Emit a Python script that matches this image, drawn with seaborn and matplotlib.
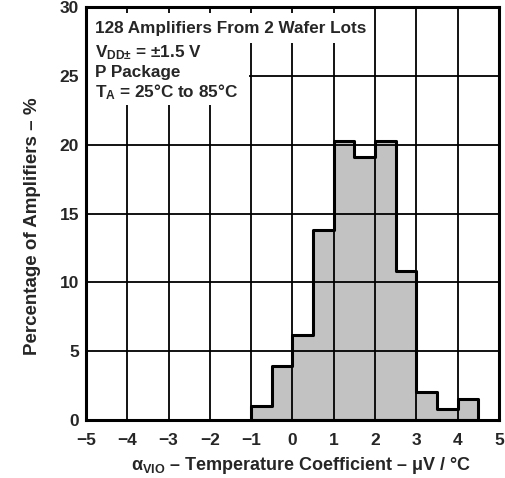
import numpy as np
import pandas as pd
import matplotlib
matplotlib.use("Agg")
import matplotlib.pyplot as plt
from matplotlib.patches import Rectangle
import seaborn as sns

# Data
bin_edges = [-1.0, -0.5, 0.0, 0.5, 1.0, 1.5, 2.0, 2.5, 3.0, 3.5, 4.0, 4.5]
bin_centers = [-0.75, -0.25, 0.25, 0.75, 1.25, 1.75, 2.25, 2.75, 3.25, 3.75, 4.25]
percentages = [1.0, 3.9, 6.2, 13.8, 20.3, 19.1, 20.3, 10.8, 2.0, 0.8, 1.5]
x_ticks = [-5, -4, -3, -2, -1, 0, 1, 2, 3, 4, 5]
y_ticks = [0, 5, 10, 15, 20, 25, 30]
info_lines = ["128 Amplifiers From 2 Wafer Lots",
              "V$_{\\mathrm{DD±}}$ = ±1.5 V",
              "P Package",
              "T$_{\\mathrm{A}}$ = 25°C to 85°C"]

sns.set_style("white")
plt.rcParams['font.family'] = ['Liberation Sans', 'DejaVu Sans']
plt.rcParams['font.weight'] = 'bold'
plt.rcParams['mathtext.fontset'] = 'custom'
plt.rcParams['mathtext.rm'] = 'Liberation Sans:bold'
plt.rcParams['mathtext.it'] = 'Liberation Sans:bold'
plt.rcParams['mathtext.bf'] = 'Liberation Sans:bold'

fig = plt.figure(figsize=(5.06, 4.78), dpi=100)
ax = fig.add_axes([0.170, 0.1213, 0.816, 0.864])

df = pd.DataFrame({"x": bin_centers, "pct": percentages})
sns.histplot(data=df, x="x", weights="pct", bins=bin_edges, element="step",
             fill=True, color="#c4c4c4", alpha=1.0, edgecolor="black",
             linewidth=2.2, ax=ax)
for coll in ax.collections:
    coll.set_facecolor("#c2c2c2")
    coll.set_edgecolor("black")
    coll.set_linewidth(2.2)
    coll.set_zorder(1)

ax.set_xlim(-5, 5)
ax.set_ylim(0, 30)
ax.set_xticks(x_ticks)
ax.set_yticks(y_ticks)
ax.set_xticklabels([("−" + str(abs(v))) if v < 0 else str(v) for v in x_ticks],
                   fontsize=12.5, fontweight='bold')
ax.set_yticklabels([str(v) for v in y_ticks], fontsize=12.5, fontweight='bold')
ax.tick_params(axis='x', length=0, pad=9)
ax.tick_params(axis='y', length=0, pad=5)
ax.grid(True, color="black", linewidth=1.3)
ax.set_axisbelow(False)
for s in ax.spines.values():
    s.set_linewidth(2.2)
    s.set_color("black")
    s.set_zorder(5)

ax.set_xlabel("α$_{\\mathrm{VIO}}$ – Temperature Coefficient – μV / °C",
              fontsize=13, fontweight='bold')
ax.xaxis.set_label_coords(0.52, -0.085)
ax.set_ylabel("Percentage of Amplifiers – %", fontsize=13.5,
              fontweight='bold')
ax.yaxis.set_label_coords(-0.108, 0.47)

# white background behind the note text
ax.add_patch(Rectangle((-5, 27.4), 6.9, 2.2, facecolor='white',
                       edgecolor='none', zorder=3))
ax.add_patch(Rectangle((-5, 22.9), 3.95, 6.7, facecolor='white',
                       edgecolor='none', zorder=3))

y_pos = [0.937, 0.879, 0.831, 0.782]
for line, yp in zip(info_lines, y_pos):
    ax.text(0.022, yp, line, transform=ax.transAxes, fontsize=12.3,
            fontweight='bold', va='baseline', ha='left', zorder=6)

fig.savefig("out.png", dpi=100)
